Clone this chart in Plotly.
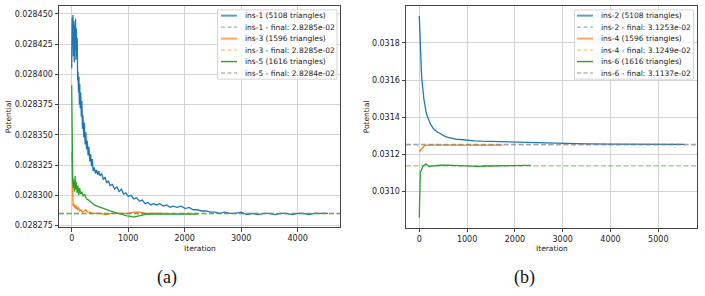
import plotly.graph_objects as go

# ---------------- data ----------------
# left panel (a)
ins1_iter = [0, 8, 15, 22, 30, 38, 45, 52, 60, 68, 75, 82, 90, 98, 105, 112, 120, 128, 135, 142,
             150, 160, 170, 180, 190, 200, 212, 225, 238, 250, 262, 275, 290, 305, 320, 335, 350, 365,
             380, 400, 420, 440, 460, 480, 500, 530, 560, 590, 620, 650, 680, 720, 760, 800, 840, 880,
             920, 960, 1000, 1050, 1100, 1150, 1200, 1250, 1300, 1350, 1400, 1450, 1500, 1560, 1620,
             1680, 1740, 1800, 1870, 1940, 2010, 2080, 2150, 2220, 2300, 2380, 2460, 2540, 2620, 2700,
             2800, 2900, 3000, 3100, 3200, 3300, 3400, 3500, 3600, 3700, 3800, 3900, 4000, 4100, 4200,
             4300, 4400, 4540]
ins1_val = [0.028405, 0.028447, 0.028425, 0.028449, 0.028415, 0.028444, 0.028410, 0.028440, 0.028420,
            0.028446, 0.028412, 0.028438, 0.028415, 0.028430, 0.028395, 0.028402, 0.028385, 0.028398,
            0.028375, 0.028392, 0.028372, 0.028385, 0.028365, 0.028378, 0.028355, 0.028366, 0.028348,
            0.028360, 0.028342, 0.028352, 0.028338, 0.028345, 0.028333, 0.028340, 0.028328, 0.028334,
            0.028324, 0.028330, 0.028320, 0.028323, 0.028318, 0.028321, 0.028317, 0.028320, 0.028316,
            0.028318, 0.028313, 0.028315, 0.028310, 0.028312, 0.028308, 0.028309, 0.028305, 0.028307,
            0.028303, 0.028305, 0.028301, 0.028302, 0.028299, 0.028300, 0.028297, 0.028298, 0.028295,
            0.028296, 0.028293, 0.028294, 0.028292, 0.028293, 0.028292, 0.028293, 0.028291, 0.028292,
            0.028290, 0.028291, 0.028290, 0.028291, 0.028289, 0.028290, 0.028288, 0.028288, 0.028287,
            0.028287, 0.028286, 0.028286, 0.028285, 0.028286, 0.028285, 0.028285, 0.028286, 0.028284,
            0.028285, 0.028284, 0.028285, 0.028285, 0.028284, 0.028285, 0.028285, 0.028284, 0.028285,
            0.028285, 0.028284, 0.028285, 0.028285, 0.028285]

ins3_iter = [0, 5, 10, 15, 25, 35, 45, 55, 70, 85, 100, 120, 140, 160, 190, 220, 250, 280, 320, 360,
             420, 500, 600, 700, 800, 900, 1000, 1100, 1200, 1300, 1400, 1500, 1620]
ins3_val = [0.028336, 0.028318, 0.028300, 0.028294, 0.028291, 0.028293, 0.028290, 0.028292, 0.028289,
            0.028291, 0.028288, 0.028290, 0.028287, 0.028288, 0.028286, 0.028287, 0.028288, 0.028286,
            0.028286, 0.028285, 0.028285, 0.028285, 0.028284, 0.028285, 0.028285, 0.028285, 0.028285,
            0.028286, 0.028286, 0.028285, 0.028285, 0.028285, 0.028285]

ins5_iter = [0, 4, 8, 12, 18, 25, 32, 40, 50, 60, 70, 80, 95, 110, 125, 140, 160, 180, 200, 230, 260,
             300, 350, 400, 450, 500, 560, 620, 680, 750, 820, 900, 980, 1050, 1100, 1150, 1200, 1260,
             1330, 1400, 1500, 1600, 1800, 2000, 2230]
ins5_val = [0.028391, 0.028360, 0.028330, 0.028318, 0.028309, 0.028314, 0.028306, 0.028312, 0.028303,
            0.028316, 0.028305, 0.028311, 0.028302, 0.028308, 0.028300, 0.028306, 0.028301, 0.028303,
            0.028299, 0.028301, 0.028297, 0.028296, 0.028294, 0.028292, 0.028291, 0.028290, 0.028289,
            0.028288, 0.028287, 0.028286, 0.028285, 0.028284, 0.028283, 0.0282825, 0.028282, 0.0282825,
            0.028283, 0.0282838, 0.0282843, 0.0282845, 0.0282845, 0.0282845, 0.0282845, 0.0282845,
            0.0282845]

# right panel (b)
ins2_iter = [0, 5, 10, 15, 20, 28, 36, 45, 55, 65, 75, 85, 95, 105, 120, 140, 160, 180, 210, 240, 270,
             300, 340, 380, 420, 470, 520, 580, 640, 700, 780, 860, 950, 1050, 1150, 1300, 1450, 1600,
             1800, 2000, 2300, 2600, 3000, 3500, 4000, 4500, 5000, 5550]
ins2_val = [0.031946, 0.031900, 0.031850, 0.031815, 0.031770, 0.031720, 0.031680, 0.031640, 0.031600,
            0.031565, 0.031545, 0.031520, 0.031500, 0.031484, 0.031455, 0.031431, 0.031410, 0.031392,
            0.031377, 0.031360, 0.031345, 0.031335, 0.031328, 0.031318, 0.031314, 0.031305, 0.031298,
            0.031292, 0.031288, 0.031284, 0.031280, 0.031279, 0.031276, 0.031274, 0.031272, 0.031270,
            0.031269, 0.031267, 0.031266, 0.031263, 0.031260, 0.031258, 0.031256, 0.031255, 0.031254,
            0.031254, 0.031254, 0.031253]

ins4_iter = [0, 20, 40, 60, 80, 100, 130, 170, 250, 400, 700, 1000, 1400, 1740]
ins4_val = [0.031213, 0.031220, 0.031228, 0.031235, 0.031240, 0.031244, 0.031247, 0.031248, 0.031249,
            0.031249, 0.031249, 0.031249, 0.031249, 0.031249]

ins6_iter = [0, 3, 6, 10, 15, 22, 30, 45, 56, 75, 90, 105, 120, 140, 160, 185, 210, 250, 300, 350, 450,
             560, 700, 850, 980, 1120, 1260, 1400, 1550, 1700, 1900, 2100, 2335]
ins6_val = [0.030857, 0.030930, 0.031000, 0.031050, 0.031080, 0.031100, 0.031106, 0.031120, 0.031127,
            0.031133, 0.031138, 0.031141, 0.031144, 0.031147, 0.031142, 0.031136, 0.031132, 0.031135,
            0.031137, 0.031138, 0.031140, 0.031141, 0.031139, 0.031137, 0.031136, 0.031135, 0.031134,
            0.031136, 0.031137, 0.031138, 0.031138, 0.031139, 0.031139]

left_names = ["ins-1 (5108 triangles)", "ins-3 (1596 triangles)", "ins-5 (1616 triangles)"]
left_finals = [0.028285, 0.028285, 0.0282845]
left_final_labels = ["ins-1 - final: 2.8285e-02", "ins-3 - final: 2.8285e-02", "ins-5 - final: 2.8284e-02"]

right_names = ["ins-2 (5108 triangles)", "ins-4 (1596 triangles)", "ins-6 (1616 triangles)"]
right_finals = [0.031253, 0.031249, 0.031137]
right_final_labels = ["ins-2 - final: 3.1253e-02", "ins-4 - final: 3.1249e-02", "ins-6 - final: 3.1137e-02"]

left_xticks = [0, 1000, 2000, 3000, 4000]
left_yticks = [0.028275, 0.028300, 0.028325, 0.028350, 0.028375, 0.028400, 0.028425, 0.028450]
right_xticks = [0, 1000, 2000, 3000, 4000, 5000]
right_yticks = [0.0310, 0.0312, 0.0314, 0.0316, 0.0318]

captions = ["(a)", "(b)"]
colors = ["#1f77b4", "#ff7f0e", "#2ca02c"]

# ---------------- figure ----------------
W, H = 705, 296
def px(x):
    return x / W
def py(y):
    return 1 - y / H

fig = go.Figure()
left_series = [(ins1_iter, ins1_val), (ins3_iter, ins3_val), (ins5_iter, ins5_val)]
right_series = [(ins2_iter, ins2_val), (ins4_iter, ins4_val), (ins6_iter, ins6_val)]

for i, (xs, ys) in enumerate(left_series):
    fig.add_trace(go.Scatter(x=xs, y=ys, mode="lines", name=left_names[i], showlegend=False,
                             line=dict(color=colors[i], width=1.3), xaxis="x", yaxis="y"))
for i, (xs, ys) in enumerate(right_series):
    fig.add_trace(go.Scatter(x=xs, y=ys, mode="lines", name=right_names[i], showlegend=False,
                             line=dict(color=colors[i], width=1.3), xaxis="x2", yaxis="y2"))

shapes = []
dash = "5px,2.5px"
for i in range(3):
    shapes.append(dict(type="line", xref="x domain", yref="y", x0=0, x1=1,
                       y0=left_finals[i], y1=left_finals[i], opacity=0.55,
                       line=dict(color=colors[i], width=1.2, dash=dash), layer="above"))
    shapes.append(dict(type="line", xref="x2 domain", yref="y2", x0=0, x1=1,
                       y0=right_finals[i], y1=right_finals[i], opacity=0.55,
                       line=dict(color=colors[i], width=1.2, dash=dash), layer="above"))

annotations = []
# custom legends
def add_legend(box, sym_x0, sym_x1, text_x, names, finals_labels):
    x0, x1, y0, y1 = box
    shapes.append(dict(type="rect", xref="paper", yref="paper", x0=px(x0), x1=px(x1),
                       y0=py(y1), y1=py(y0), fillcolor="rgba(255,255,255,0.85)",
                       line=dict(color="#d6d6d6", width=1), layer="above"))
    rows = [15.8, 27.4, 39.0, 50.6, 62.2, 73.8]
    for i in range(3):
        for k, lbl in enumerate([names[i], finals_labels[i]]):
            yy = rows[2 * i + k]
            if k == 0:
                ln = dict(color=colors[i], width=2 if i < 2 else 1.4)
                op = 0.7 if i < 2 else 1.0
            else:
                ln = dict(color=colors[i], width=1.4, dash="4px,2.5px")
                op = 0.5
            shapes.append(dict(type="line", xref="paper", yref="paper", x0=px(sym_x0), x1=px(sym_x1),
                               y0=py(yy), y1=py(yy), line=ln, opacity=op, layer="above"))
            annotations.append(dict(text=lbl, xref="paper", yref="paper", x=px(text_x), y=py(yy),
                                    xanchor="left", yanchor="middle", showarrow=False,
                                    font=dict(size=7.5, color="#222")))

add_legend((217.5, 337, 10, 80), 221, 237, 242.5, left_names, left_final_labels)
add_legend((574.5, 693.5, 10, 80), 577, 593, 599, right_names, right_final_labels)

# axis titles and captions
for cx in [199.5, 551.5]:
    annotations.append(dict(text="Iteration", xref="paper", yref="paper", x=px(cx), y=py(251),
                            xanchor="center", yanchor="middle", showarrow=False,
                            font=dict(size=7.5, color="#222")))
for cx in [8.5, 366.5]:
    annotations.append(dict(text="Potential", xref="paper", yref="paper", x=px(cx), y=py(118),
                            xanchor="center", yanchor="middle", showarrow=False, textangle=-90,
                            font=dict(size=7.5, color="#222")))
for cx, cap in zip([166.5, 524], captions):
    annotations.append(dict(text=cap, xref="paper", yref="paper", x=px(cx), y=py(280),
                            xanchor="center", yanchor="middle", showarrow=False,
                            font=dict(size=18, color="#111", family="Liberation Serif")))

axis_common = dict(showgrid=True, gridcolor="#d3d3d3", gridwidth=0.8, zeroline=False,
                   showline=True, linecolor="#444", linewidth=1, mirror=True,
                   ticks="outside", ticklen=3.5, tickwidth=0.8, tickcolor="#444",
                   tickfont=dict(size=8, color="#222", family="DejaVu Sans"))

y_top, y_bot = 6, 229.5
fig.update_layout(
    width=W, height=H, margin=dict(l=0, r=0, t=0, b=0),
    paper_bgcolor="white", plot_bgcolor="white",
    font=dict(family="DejaVu Sans"),
    xaxis=dict(domain=[px(59), px(340)], range=[-225, 4750], anchor="y",
               tickvals=left_xticks, ticktext=[str(v) for v in left_xticks], **axis_common),
    yaxis=dict(domain=[py(y_bot), py(y_top)], range=[0.0282736, 0.0284566], anchor="x",
               tickvals=left_yticks, ticktext=["%.6f" % v for v in left_yticks], **axis_common),
    xaxis2=dict(domain=[px(406), px(697)], range=[-278, 5810], anchor="y2",
                tickvals=right_xticks, ticktext=[str(v) for v in right_xticks], **axis_common),
    yaxis2=dict(domain=[py(230), py(y_top)], range=[0.030803, 0.032], anchor="x2",
                tickvals=right_yticks, ticktext=["%.4f" % v for v in right_yticks], **axis_common),
    shapes=shapes, annotations=annotations, showlegend=False,
)

fig.write_html("out.html")
